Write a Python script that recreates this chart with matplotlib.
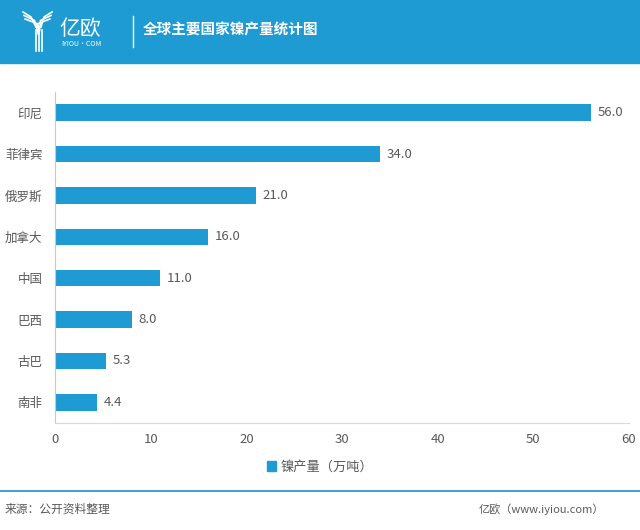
import matplotlib.pyplot as plt
from matplotlib.patches import Rectangle
from matplotlib.lines import Line2D

plt.rcParams['font.family'] = ['Noto Sans CJK SC', 'DejaVu Sans']

# 数据
countries = ['印尼', '菲律宾', '俄罗斯', '加拿大', '中国', '巴西', '古巴', '南非']
output = [56.0, 34.0, 21.0, 16.0, 11.0, 8.0, 5.3, 4.4]
series_name = '镍产量（万吨）'
title = '全球主要国家镍产量统计图'

blue = '#1f9bd3'
grey_txt = '#595959'
W, H = 640, 530


def px(x, y):
    # 像素坐标 -> figure 坐标
    return x / W, 1 - y / H


fig = plt.figure(figsize=(6.4, 5.3), dpi=100)

# 顶部标题栏
fig.patches.append(Rectangle(px(0, 63), 1, 63 / H, transform=fig.transFigure,
                             color=blue, zorder=0))
# 简化的 Y 形 logo
for k in range(3):
    d = k * 3.5
    xs_l = [23 + d * 0.3, 31 + d, 36 + d * 0.4]
    xs_r = [52 - d * 0.3, 44 - d, 41 - d * 0.4]
    ys = [12 + d, 17 + d, 27 + d]
    for xs in (xs_l, xs_r):
        fx = [x / W for x in xs]
        fy = [1 - v / H for v in ys]
        fig.lines.append(Line2D(fx, fy, transform=fig.transFigure, color='white', lw=1.2))
for xs in [35.5, 38.5, 41.5]:
    fig.lines.append(Line2D([xs / W, xs / W], [1 - 30 / H, 1 - 51 / H],
                            transform=fig.transFigure, color='white', lw=1.2))
fig.text(*px(59, 29), '亿欧', color='white', fontsize=15, ha='left', va='center')
fig.text(*px(61, 44), 'IYIOU·COM', color='white', fontsize=5, ha='left', va='center')
fig.lines.append(Line2D([133 / W, 133 / W], [1 - 16 / H, 1 - 47 / H],
                        transform=fig.transFigure, color='white', lw=1))
fig.text(*px(143, 29), title, color='white', fontsize=10.5, fontweight='bold',
         ha='left', va='center')

# 主图
ax = fig.add_axes([55 / W, 1 - 423 / H, 574 / W, 331 / H])
y = list(range(len(countries)))
bars = ax.barh(y, output, height=0.4, color=blue, label=series_name)
ax.set_ylim(len(countries) - 0.5, -0.5)
ax.set_xlim(0, 60)
ax.set_xticks(range(0, 61, 10))
ax.set_yticks(y)
ax.set_yticklabels(countries)
for b, v in zip(bars, output):
    ax.text(b.get_width() + 0.7, b.get_y() + b.get_height() / 2, f'{v:.1f}',
            va='center', ha='left', fontsize=9.5, color=grey_txt)

for s in ['top', 'right']:
    ax.spines[s].set_visible(False)
ax.spines['left'].set_color('#c8c8c8')
ax.spines['bottom'].set_color('#d9d9d9')
ax.tick_params(axis='x', length=0, labelsize=9.5, colors=grey_txt, pad=7)
ax.tick_params(axis='y', length=0, labelsize=9, colors=grey_txt, pad=9)

fig.legend(handles=[Rectangle((0, 0), 1, 1, color=blue)], labels=[series_name],
           loc='center', bbox_to_anchor=px(320, 467), frameon=False,
           prop={'size': 9.5},
           handlelength=0.7, handleheight=0.7, handletextpad=0.3, labelcolor=grey_txt)

# 底部
fig.lines.append(Line2D([0, 1], [1 - 491 / H, 1 - 491 / H], transform=fig.transFigure,
                        color='#4a9fd0', lw=1.5))
fig.text(*px(5, 509), '来源：公开资料整理', fontsize=8.5, color=grey_txt,
         ha='left', va='center')
fig.text(*px(604, 509), '亿欧（www.iyiou.com）', fontsize=8, color=grey_txt,
         ha='right', va='center')

fig.savefig('out.png', dpi=100)
